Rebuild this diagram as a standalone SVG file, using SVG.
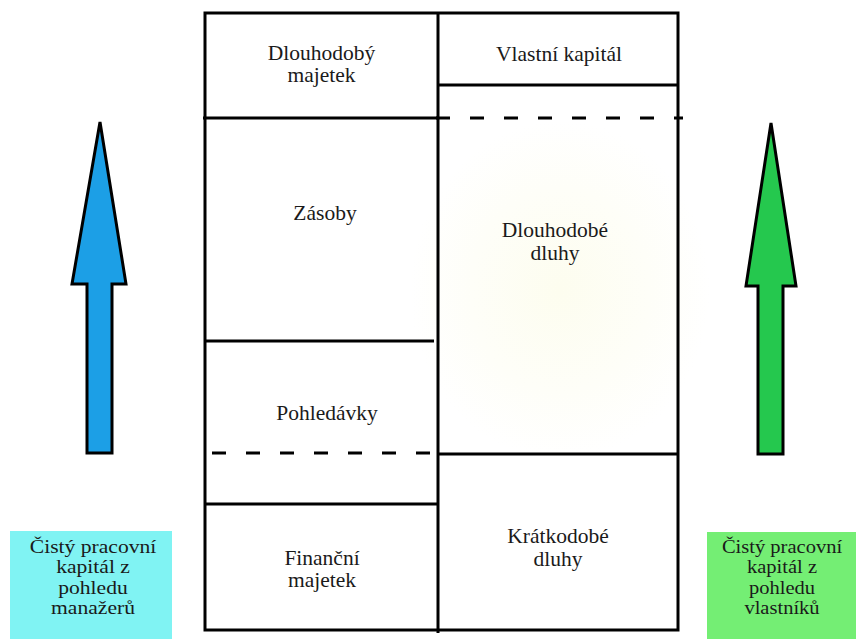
<svg xmlns="http://www.w3.org/2000/svg" width="856" height="639" viewBox="0 0 856 639">
  <style>
    .ln { stroke: #000; stroke-width: 3; fill: none; }
    .dash { stroke: #000; stroke-width: 3; fill: none; stroke-dasharray: 14 20; }
    text { font-family: "Liberation Serif", "DejaVu Serif", serif; fill: #1a1a1a; text-anchor: middle; }
    .t { font-size: 21.5px; }
    .s { font-size: 18px; }
    .arrow { stroke: #000; stroke-width: 3; stroke-linejoin: miter; }
  </style>
  <defs>
    <radialGradient id="glow" cx="0.5" cy="0.5" r="0.5">
      <stop offset="0" stop-color="#fdfdef"/>
      <stop offset="0.6" stop-color="#fefef8"/>
      <stop offset="1" stop-color="#ffffff"/>
    </radialGradient>
  </defs>
  <rect width="856" height="639" fill="#ffffff"/>
  <ellipse cx="560" cy="290" rx="150" ry="170" fill="url(#glow)"/>

  <g id="balance-frame">
    <rect class="ln" x="205" y="13" width="473" height="617"/>
    <line class="ln" x1="438" y1="13" x2="438" y2="633"/>
  </g>

  <g id="dlouhodoby-majetek">
    <line class="ln" x1="203" y1="118" x2="438" y2="118"/>
    <text class="t" x="321.5" y="60">Dlouhodobý</text>
    <text class="t" x="321.5" y="82">majetek</text>
  </g>

  <g id="vlastni-kapital">
    <line class="ln" x1="438" y1="85" x2="678" y2="85"/>
    <text class="t" x="559" y="61">Vlastní kapitál</text>
  </g>

  <g id="zasoby">
    <line class="ln" x1="205" y1="341" x2="434" y2="341"/>
    <text class="t" x="325" y="220">Zásoby</text>
  </g>

  <g id="dlouhodobe-dluhy">
    <line class="dash" x1="436" y1="118" x2="683" y2="118"/>
    <line class="ln" x1="438" y1="454" x2="678" y2="454"/>
    <text class="t" x="555" y="237">Dlouhodobé</text>
    <text class="t" x="555" y="260">dluhy</text>
  </g>

  <g id="pohledavky">
    <line class="dash" x1="205" y1="453" x2="438" y2="453" stroke-dashoffset="27"/>
    <line class="ln" x1="205" y1="504" x2="438" y2="504"/>
    <text class="t" x="327" y="420">Pohledávky</text>
  </g>

  <g id="financni-majetek">
    <text class="t" x="322" y="565">Finanční</text>
    <text class="t" x="322" y="587">majetek</text>
  </g>

  <g id="kratkodobe-dluhy">
    <text class="t" x="558" y="543">Krátkodobé</text>
    <text class="t" x="558" y="566">dluhy</text>
  </g>

  <g id="connectors">
    <polygon id="arrow-managers" class="arrow" fill="#1C9FE6" points="100,122 126,284 112,284 112,453 87,453 87,284 72,284"/>
    <polygon id="arrow-owners" class="arrow" fill="#25C84E" points="771,123 796,286 783,286 783,454 758,454 758,286 746,286"/>
  </g>

  <g id="cpk-manazeru">
    <rect x="10" y="531" width="162" height="108" fill="#80F3F3"/>
    <g transform="translate(93,0) scale(1.2,1)">
      <text class="s" x="0" y="553">Čistý pracovní</text>
      <text class="s" x="0" y="573.5">kapitál z</text>
      <text class="s" x="0" y="594">pohledu</text>
      <text class="s" x="0" y="614.5">manažerů</text>
    </g>
  </g>

  <g id="cpk-vlastniku">
    <rect x="707" y="532" width="149" height="107" fill="#74EE74"/>
    <g transform="translate(782,0) scale(1.14,1)">
      <text class="s" x="0" y="553">Čistý pracovní</text>
      <text class="s" x="0" y="573.5">kapitál z</text>
      <text class="s" x="0" y="594">pohledu</text>
      <text class="s" x="0" y="614.5">vlastníků</text>
    </g>
  </g>
</svg>
